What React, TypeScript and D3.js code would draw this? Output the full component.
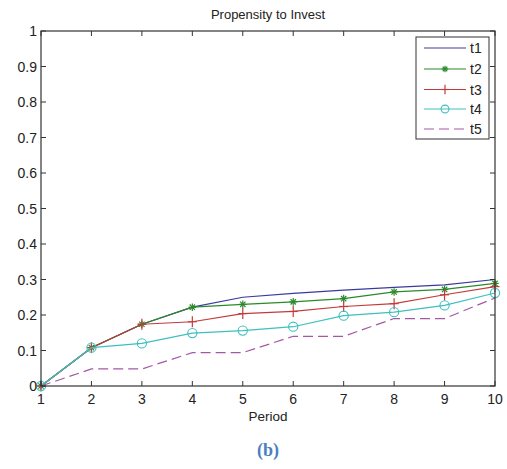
import React from "react";
import * as d3 from "d3";

const periods = [1, 2, 3, 4, 5, 6, 7, 8, 9, 10];
const t1 = [0, 0.108, 0.174, 0.222, 0.25, 0.261, 0.27, 0.278, 0.285, 0.3];
const t2 = [0, 0.108, 0.174, 0.222, 0.23, 0.237, 0.246, 0.265, 0.272, 0.289];
const t3 = [0, 0.108, 0.174, 0.181, 0.204, 0.21, 0.224, 0.232, 0.257, 0.28];
const t4 = [0, 0.108, 0.12, 0.149, 0.156, 0.167, 0.198, 0.208, 0.227, 0.262];
const t5 = [0, 0.048, 0.048, 0.094, 0.094, 0.14, 0.14, 0.19, 0.19, 0.248];
const yTicks = [0, 0.1, 0.2, 0.3, 0.4, 0.5, 0.6, 0.7, 0.8, 0.9, 1];
const seriesNames = ["t1", "t2", "t3", "t4", "t5"];
const seriesData = [t1, t2, t3, t4, t5];
const colors = ["#3a3a9e", "#2a8a2a", "#c23b3b", "#3fbfbf", "#a458a4"];
const markers = ["none", "star", "plus", "circle", "none"];

const L = 41, R = 495, T = 31, B = 386;
const x = d3.scaleLinear().domain([1, 10]).range([L, R]);
const y = d3.scaleLinear().domain([0, 1]).range([B, T]);
const font = "Liberation Sans, Arial, sans-serif";

function Marker({ kind, cx, cy, color, k = 1 }: { kind: string; cx: number; cy: number; color: string; k?: number }) {
  if (kind === "circle") return <circle cx={cx} cy={cy} r={4.6 * k} fill="none" stroke={color} strokeWidth={1.1} />;
  if (kind === "plus")
    return (
      <g stroke={color} strokeWidth={1.2}>
        <line x1={cx - 4.5 * k} x2={cx + 4.5 * k} y1={cy} y2={cy} />
        <line x1={cx} x2={cx} y1={cy - 5.5 * k} y2={cy + 5.5 * k} />
      </g>
    );
  if (kind === "star") {
    const s = 3.8 * k;
    return (
      <g stroke={color} strokeWidth={1.2}>
        <line x1={cx - s} x2={cx + s} y1={cy} y2={cy} />
        <line x1={cx} x2={cx} y1={cy - s} y2={cy + s} />
        <line x1={cx - s * 0.7} x2={cx + s * 0.7} y1={cy - s * 0.7} y2={cy + s * 0.7} />
        <line x1={cx - s * 0.7} x2={cx + s * 0.7} y1={cy + s * 0.7} y2={cy - s * 0.7} />
      </g>
    );
  }
  return null;
}

export default function App() {
  const line = d3
    .line<number>()
    .x((_, i) => x(periods[i]))
    .y((d) => y(d));
  const legendY = [48, 69, 89.5, 109, 129];
  return (
    <svg width={507} height={469} style={{ position: "absolute", left: 0, top: 0, background: "#fff" }}>
      <rect x={0} y={0} width={507} height={469} fill="#fff" />
      <text x={268} y={19} textAnchor="middle" fontFamily={font} fontSize={13} fill="#222">
        Propensity to Invest
      </text>
      {seriesData.map((s, k) => (
        <g key={k}>
          <path
            d={line(s) || ""}
            fill="none"
            stroke={colors[k]}
            strokeWidth={1.2}
            strokeDasharray={k === 4 ? "10,5" : undefined}
          />
          {s.map((v, i) => (
            <Marker key={i} kind={markers[k]} cx={x(periods[i])} cy={y(v)} color={colors[k]} />
          ))}
        </g>
      ))}
      <rect x={L} y={T} width={R - L} height={B - T} fill="none" stroke="#333" strokeWidth={1.2} />
      {periods.map((p) => (
        <g key={p}>
          <line x1={x(p)} x2={x(p)} y1={B} y2={B - 5} stroke="#333" />
          <line x1={x(p)} x2={x(p)} y1={T} y2={T + 5} stroke="#333" />
          <text x={x(p)} y={404} textAnchor="middle" fontFamily={font} fontSize={14} fill="#222">
            {p}
          </text>
        </g>
      ))}
      {yTicks.map((v) => (
        <g key={v}>
          <line x1={L} x2={L + 5} y1={y(v)} y2={y(v)} stroke="#333" />
          <line x1={R} x2={R - 5} y1={y(v)} y2={y(v)} stroke="#333" />
          <text x={37} y={y(v) + 5} textAnchor="end" fontFamily={font} fontSize={14} fill="#222">
            {String(v)}
          </text>
        </g>
      ))}
      <text x={268} y={421} textAnchor="middle" fontFamily={font} fontSize={13.5} fill="#222">
        Period
      </text>
      <rect x={416} y={37} width={73} height={102} fill="#fff" stroke="#333" strokeWidth={1} />
      {seriesNames.map((n, k) => (
        <g key={n}>
          <line
            x1={424}
            x2={466}
            y1={legendY[k]}
            y2={legendY[k]}
            stroke={colors[k]}
            strokeWidth={1.2}
            strokeDasharray={k === 4 ? "10,5" : undefined}
          />
          <Marker kind={markers[k]} cx={445} cy={legendY[k]} color={colors[k]} k={0.85} />
          <text x={470} y={legendY[k] + 5} fontFamily={font} fontSize={14} fill="#222">
            {n}
          </text>
        </g>
      ))}
      <text x={268} y={456} textAnchor="middle" fontFamily="Liberation Serif, Times New Roman, serif" fontWeight="bold" fontSize={18} fill="#4a7fc1">
        (b)
      </text>
    </svg>
  );
}
